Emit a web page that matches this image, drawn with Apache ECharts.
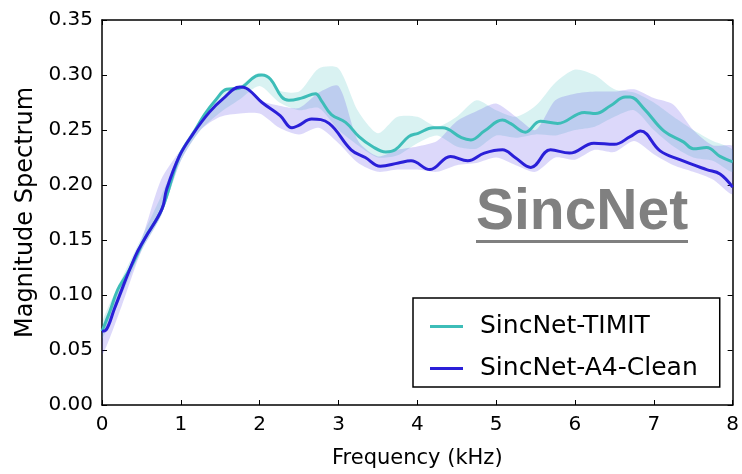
<!DOCTYPE html>
<html>
<head>
<meta charset="utf-8">
<script src="https://cdn.jsdelivr.net/npm/echarts@6/dist/echarts.min.js"></script>
<style>
  html, body { margin: 0; padding: 0; background: #fff; }
  #chart { width: 742px; height: 474px; }
</style>
</head>
<body>
<div id="chart"></div>
<script>
// Average magnitude spectrum of the learned filters (frequency in kHz)
const timitFreq = [0, 0.1, 0.2, 0.3, 0.4, 0.54, 0.76, 0.98, 1.15, 1.3, 1.45, 1.58, 1.74, 1.95, 2.03, 2.14, 2.28, 2.37, 2.53, 2.71, 2.78, 2.91, 3.09, 3.26, 3.43, 3.6, 3.72, 3.89, 4.01, 4.2, 4.32, 4.56, 4.68, 4.85, 5.08, 5.18, 5.37, 5.56, 5.78, 6.12, 6.26, 6.45, 6.64, 6.7, 6.88, 7.13, 7.38, 7.5, 7.67, 7.84, 8.0];
const timitMag  = [0.067, 0.085, 0.105, 0.117, 0.130, 0.151, 0.178, 0.226, 0.246, 0.264, 0.278, 0.287, 0.288, 0.299, 0.300, 0.296, 0.280, 0.277, 0.279, 0.283, 0.277, 0.264, 0.257, 0.244, 0.235, 0.230, 0.232, 0.244, 0.247, 0.252, 0.252, 0.243, 0.241, 0.249, 0.259, 0.256, 0.248, 0.258, 0.256, 0.266, 0.265, 0.272, 0.280, 0.280, 0.269, 0.249, 0.239, 0.233, 0.234, 0.226, 0.221];

const cleanFreq = [0, 0.05, 0.16, 0.42, 0.54, 0.76, 0.82, 0.98, 1.15, 1.36, 1.53, 1.75, 1.83, 2.03, 2.26, 2.41, 2.49, 2.66, 2.88, 3.16, 3.34, 3.53, 3.76, 3.92, 4.16, 4.42, 4.64, 4.85, 5.08, 5.24, 5.44, 5.69, 5.93, 6.24, 6.5, 6.7, 6.83, 7.08, 7.33, 7.67, 7.84, 8.0];
const cleanMag  = [0.067, 0.068, 0.088, 0.135, 0.151, 0.178, 0.196, 0.226, 0.246, 0.266, 0.278, 0.289, 0.288, 0.275, 0.263, 0.252, 0.254, 0.260, 0.256, 0.232, 0.225, 0.217, 0.220, 0.222, 0.214, 0.226, 0.222, 0.229, 0.232, 0.225, 0.216, 0.232, 0.229, 0.238, 0.237, 0.244, 0.249, 0.231, 0.223, 0.214, 0.210, 0.198];

// Spread across runs, sampled every 0.25 kHz
const bandFreq  = [0, 0.25, 0.5, 0.75, 1, 1.25, 1.5, 1.75, 2, 2.25, 2.5, 2.75, 3, 3.25, 3.5, 3.75, 4, 4.25, 4.5, 4.75, 5, 5.25, 5.5, 5.75, 6, 6.25, 6.5, 6.75, 7, 7.25, 7.5, 7.75, 8];
const timitLow  = [0.060, 0.100, 0.140, 0.172, 0.222, 0.250, 0.266, 0.278, 0.290, 0.275, 0.268, 0.270, 0.250, 0.236, 0.225, 0.227, 0.238, 0.245, 0.235, 0.233, 0.245, 0.243, 0.246, 0.245, 0.250, 0.253, 0.262, 0.268, 0.250, 0.235, 0.225, 0.222, 0.212];
const timitHigh = [0.075, 0.115, 0.152, 0.190, 0.232, 0.260, 0.283, 0.290, 0.302, 0.286, 0.285, 0.306, 0.306, 0.267, 0.247, 0.262, 0.262, 0.253, 0.262, 0.277, 0.268, 0.262, 0.272, 0.293, 0.305, 0.300, 0.287, 0.284, 0.275, 0.262, 0.250, 0.240, 0.232];
const cleanLow  = [0.045, 0.090, 0.140, 0.172, 0.222, 0.250, 0.262, 0.265, 0.265, 0.252, 0.246, 0.252, 0.238, 0.220, 0.212, 0.214, 0.214, 0.212, 0.218, 0.220, 0.225, 0.218, 0.212, 0.225, 0.223, 0.232, 0.230, 0.240, 0.228, 0.218, 0.212, 0.205, 0.192];
const cleanHigh = [0.070, 0.110, 0.150, 0.205, 0.232, 0.255, 0.276, 0.289, 0.277, 0.272, 0.270, 0.284, 0.290, 0.240, 0.226, 0.232, 0.235, 0.240, 0.258, 0.267, 0.274, 0.262, 0.250, 0.277, 0.283, 0.285, 0.285, 0.287, 0.279, 0.273, 0.250, 0.236, 0.235];

const xTicks = { min: 0, max: 8, step: 1 };
const yTicks = { min: 0, max: 0.35, step: 0.05 };

const TEAL = '#3dbdb8';
const BLUE = '#2a1fd8';
const FONT = 'DejaVu Sans';

const pairs = (xs, ys) => xs.map((x, i) => [x, ys[i]]);

// Shaded min/max envelope drawn as one smoothed polygon in data coordinates
function band(lo, hi, fill) {
  return {
    type: 'custom', silent: true, z: 1, clip: true,
    data: bandFreq.map((f, i) => [f, lo[i], hi[i]]),
    encode: { x: 0, y: [1, 2] },
    renderItem: (params, api) => {
      if (params.dataIndex !== 0) return null;
      const upper = bandFreq.map((f, i) => api.coord([f, hi[i]]));
      const lower = bandFreq.map((f, i) => api.coord([f, lo[i]])).reverse();
      return {
        type: 'polygon',
        shape: { points: upper.concat(lower), smooth: 0.25 },
        style: { fill: fill }
      };
    }
  };
}

const chart = echarts.init(document.getElementById('chart'), null, { renderer: 'canvas' });

const axisCommon = {
  axisLine: { show: true, onZero: false, lineStyle: { color: '#000', width: 1.5 } },
  axisTick: { show: true, inside: true, length: 5, lineStyle: { color: '#000', width: 1 } },
  splitLine: { show: false }
};

chart.setOption({
  animation: false,
  backgroundColor: '#fff',
  grid: { left: 102, right: 6, top: 20, bottom: 67, containLabel: false },
  xAxis: [
    Object.assign({
      type: 'value', min: xTicks.min, max: xTicks.max, interval: xTicks.step, position: 'bottom',
      name: 'Frequency (kHz)', nameLocation: 'middle', nameGap: 43,
      nameTextStyle: { fontFamily: FONT, fontSize: 21, color: '#000' },
      axisLabel: { fontFamily: FONT, fontSize: 20, color: '#000', margin: 10 }
    }, axisCommon),
    Object.assign({
      type: 'value', min: xTicks.min, max: xTicks.max, interval: xTicks.step, position: 'top',
      axisLabel: { show: false }
    }, axisCommon)
  ],
  yAxis: [
    Object.assign({
      type: 'value', min: yTicks.min, max: yTicks.max, interval: yTicks.step, position: 'left',
      name: 'Magnitude Spectrum', nameLocation: 'middle', nameGap: 63,
      nameTextStyle: { fontFamily: FONT, fontSize: 24, color: '#000' },
      axisLabel: { fontFamily: FONT, fontSize: 20, color: '#000', margin: 9,
        formatter: v => v.toFixed(2) }
    }, axisCommon),
    Object.assign({
      type: 'value', min: yTicks.min, max: yTicks.max, interval: yTicks.step, position: 'right',
      axisLabel: { show: false }
    }, axisCommon)
  ],
  legend: {
    data: ['SincNet-TIMIT', 'SincNet-A4-Clean'],
    orient: 'vertical', left: 413, top: 298,
    icon: 'rect', itemWidth: 33, itemHeight: 3, itemGap: 15,
    padding: [15, 22, 5, 17],
    borderColor: '#000', borderWidth: 1.5, backgroundColor: '#fff',
    textStyle: { fontFamily: FONT, fontSize: 25, color: '#000', lineHeight: 27, padding: [0, 0, 0, 12] },
    selectedMode: false
  },
  graphic: [
    { type: 'text', left: 476, top: 185, z: 20,
      style: { text: 'SincNet', font: 'bold 57px "Liberation Sans", Arial, sans-serif', fill: '#808080' } },
    { type: 'rect', left: 476, top: 240, z: 20, shape: { width: 212, height: 3 }, style: { fill: '#808080' } }
  ],
  series: [
    band(timitLow, timitHigh, 'rgba(64,191,191,0.2)'),
    band(cleanLow, cleanHigh, 'rgba(70,50,230,0.19)'),
    { name: 'SincNet-TIMIT', type: 'line', data: pairs(timitFreq, timitMag), symbol: 'none', smooth: 0.4,
      color: TEAL, lineStyle: { color: TEAL, width: 3 }, z: 3 },
    { name: 'SincNet-A4-Clean', type: 'line', data: pairs(cleanFreq, cleanMag), symbol: 'none', smooth: 0.4,
      color: BLUE, lineStyle: { color: BLUE, width: 3 }, z: 4 }
  ]
});
</script>
</body>
</html>
